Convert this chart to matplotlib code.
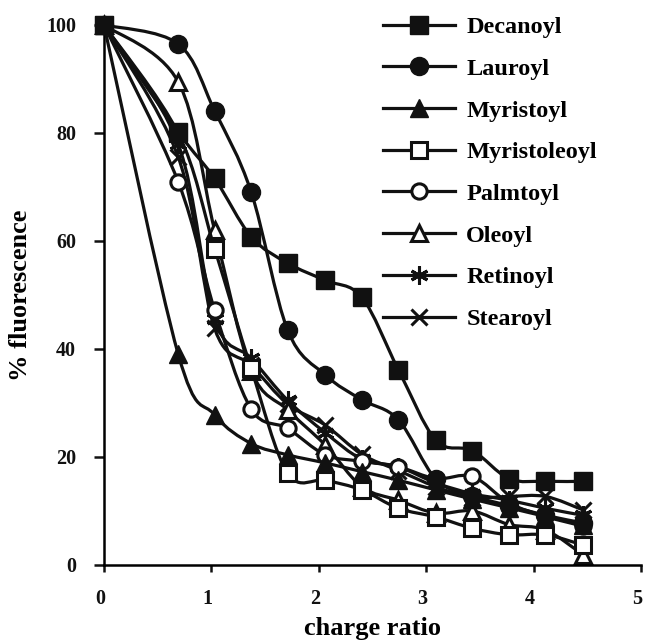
import matplotlib
matplotlib.use('Agg')
import matplotlib.pyplot as plt
import matplotlib.transforms as mtransforms
from matplotlib.path import Path
from matplotlib.patches import PathPatch
from matplotlib.lines import Line2D
import numpy as np

plt.rcParams['font.family'] = 'Liberation Serif'
plt.rcParams['font.weight'] = 'bold'

# charge ratio (x) shared by all series
charge_ratio = [0, 0.69, 1.03, 1.37, 1.71, 2.06, 2.4, 2.74, 3.09, 3.43, 3.77, 4.11, 4.46]

# % fluorescence for each lipid
decanoyl = [100, 80.2, 71.6, 60.8, 55.9, 52.7, 49.6, 36.2, 23.1, 21.2, 16.0, 15.5, 15.5]
lauroyl = [100, 96.5, 84.1, 69.1, 43.5, 35.2, 30.6, 26.9, 15.9, 12.8, 11.0, 9.2, 7.8]
myristoyl = [100, 39.1, 27.8, 22.5, 20.4, 18.9, 17.3, 15.7, 13.9, 12.2, 10.6, 9.0, 7.5]
myristoleoyl = [100, 80.0, 58.6, 36.4, 17.0, 15.7, 13.9, 10.5, 8.9, 6.8, 5.6, 5.6, 3.7]
palmtoyl = [100, 71.0, 47.2, 28.9, 25.3, 20.4, 19.2, 18.2, 16.0, 16.4, 11.5, 9.0, 7.2]
oleoyl = [100, 89.5, 62.0, 36.0, 28.7, 22.2, 14.5, 12.0, 9.6, 10.0, 7.5, 6.5, 1.9]
retinoyl = [100, 78.0, 45.5, 38.3, 30.5, 24.5, 19.6, 18.2, 15.2, 13.2, 12.0, 10.5, 9.2]
stearoyl = [100, 75.6, 43.8, 37.0, 29.8, 25.9, 20.5, 17.5, 14.5, 12.5, 12.7, 12.7, 10.2]

names = ['Decanoyl', 'Lauroyl', 'Myristoyl', 'Myristoleoyl', 'Palmtoyl',
         'Oleoyl', 'Retinoyl', 'Stearoyl']
series = [decanoyl, lauroyl, myristoyl, myristoleoyl, palmtoyl,
          oleoyl, retinoyl, stearoyl]

ink = '#111111'
# marker, filled, size
styles = [('s', True, 13), ('o', True, 13), ('^', True, 13),
          ('s', False, 11.5), ('o', False, 11), ('^', False, 12),
          ((6, 2, 0), False, 13), ('x', False, 12)]


def smooth_path(xs, ys):
    """Excel-like smoothed line: cubic Bezier through every point."""
    pts = np.column_stack([xs, ys]).astype(float)
    n = len(pts)
    verts = [pts[0]]
    codes = [Path.MOVETO]
    for i in range(n - 1):
        p0 = pts[i - 1] if i > 0 else pts[i]
        p1 = pts[i]
        p2 = pts[i + 1]
        p3 = pts[i + 2] if i + 2 < n else pts[i + 1]
        c1 = p1 + (p2 - p0) / 6.0
        c2 = p2 - (p3 - p1) / 6.0
        verts += [c1, c2, p2]
        codes += [Path.CURVE4] * 3
    return Path(verts, codes)


fig = plt.figure(figsize=(6.45, 6.44), dpi=100)
ax = fig.add_axes([104 / 645, 1 - 565 / 644, 537 / 645, 540 / 644])

handles = []
nser = len(series)
for i, (name, vals) in enumerate(zip(names, series)):
    marker, filled, ms = styles[i]
    face = ink if filled else 'white'
    mew = 1.0 if filled else 2.2
    z = 2 + (nser - i) * 0.1  # first series ends up on top
    patch = PathPatch(smooth_path(charge_ratio, vals), fill=False,
                      edgecolor=ink, lw=2.3, zorder=z,
                      clip_on=False, capstyle='round', joinstyle='round')
    ax.add_patch(patch)
    ax.plot(charge_ratio, vals, linestyle='none', marker=marker,
            markersize=ms, markerfacecolor=face,
            markeredgecolor=ink, markeredgewidth=mew,
            zorder=z + 0.05, clip_on=False)
    handles.append(Line2D([], [], color=ink, lw=2.3, marker=marker,
                          markersize=ms, markerfacecolor=face,
                          markeredgecolor=ink, markeredgewidth=mew, label=name))

ax.set_xlim(0, 5)
ax.set_ylim(0, 100)
ax.set_xticks([0, 1, 2, 3, 4, 5])
ax.set_yticks([0, 20, 40, 60, 80, 100])
ax.spines['top'].set_visible(False)
ax.spines['right'].set_visible(False)
ax.spines['left'].set_linewidth(1.8)
ax.spines['bottom'].set_linewidth(1.8)
ax.tick_params(axis='y', direction='out', length=7, width=1.8, labelsize=14.5,
               pad=13, colors=ink)
ax.tick_params(axis='x', direction='out', length=5, width=1.8, labelsize=14.5,
               pad=12, colors=ink)

# the x tick labels sit slightly left of their ticks in the original
shift = mtransforms.ScaledTranslation(-4 / 100, 0, fig.dpi_scale_trans)
for lab in ax.get_xticklabels():
    lab.set_transform(lab.get_transform() + shift)
for lab in ax.get_xticklabels() + ax.get_yticklabels():
    lab.set_fontweight('bold')

ax.set_xlabel('charge ratio', fontsize=19, fontweight='bold', labelpad=6)
ax.set_ylabel('% fluorescence', fontsize=19, fontweight='bold', labelpad=10)

leg = ax.legend(handles=handles, loc='upper left', bbox_to_anchor=(0.479, 1.057),
                frameon=False, handlelength=2.96, handletextpad=0.46,
                labelspacing=0.81, prop={'weight': 'bold', 'size': 17.5})

fig.savefig('out.png', dpi=100)
